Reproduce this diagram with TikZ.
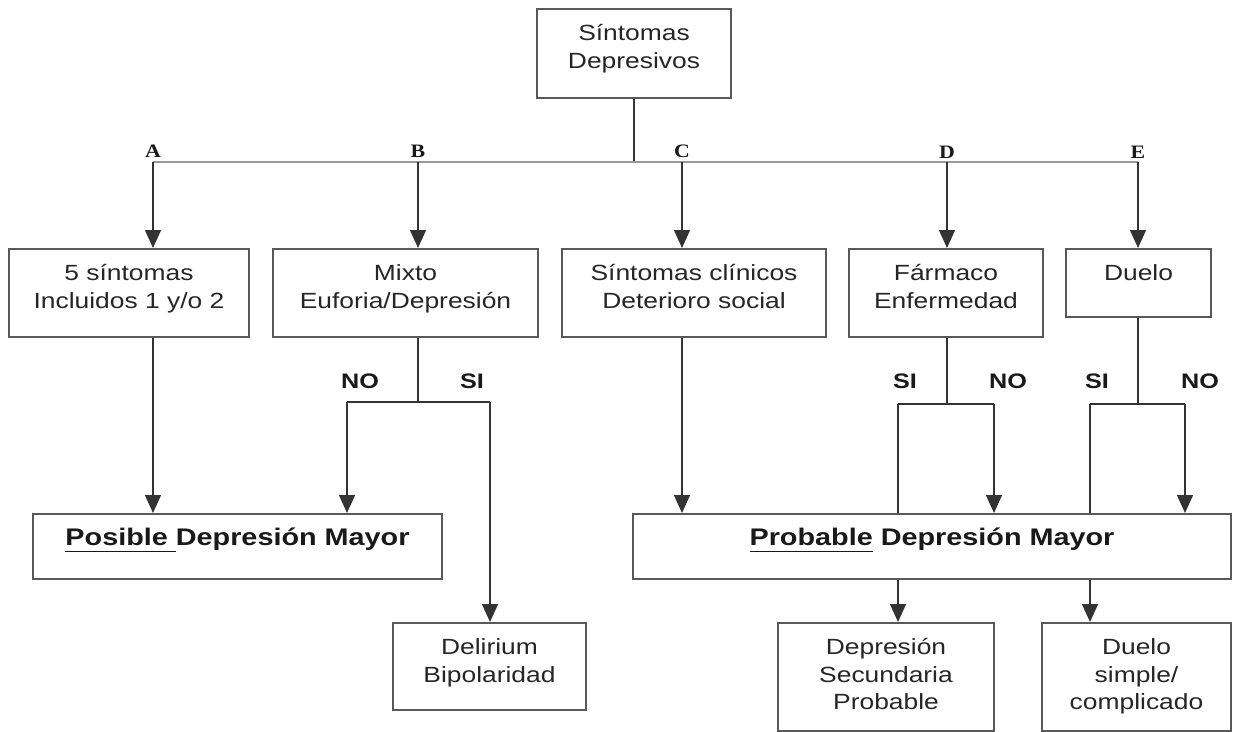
\documentclass[tikz,border=0pt]{standalone}
\usepackage{fontspec}
\setmainfont{Liberation Sans}[FakeStretch=1.2]
\newfontfamily\lblfont{Liberation Serif}[FakeStretch=1.15]
\usetikzlibrary{arrows.meta}
\newsavebox\ulb
\newcommand\myul[1]{\sbox\ulb{#1}\rlap{\rule[-6.5pt]{\wd\ulb}{1.8pt}}\usebox\ulb}
\newcommand\bt[3]{\parbox[c][#2][t]{#1}{\centering\vspace*{12.75pt}\strut #3}}
\begin{document}
\begin{tikzpicture}[x=1pt,y=-1pt,
  box/.style={draw=black!65, line width=1.8pt, inner sep=0pt, anchor=north, text=black!85, font=\fontsize{22}{27.5}\selectfont},
  bigbox/.style={box, text=black!90, font=\fontsize{24}{27.5}\selectfont\bfseries},
  conn/.style={draw=black!80, line width=1.4pt},
  arr/.style={conn, -{Triangle[length=18pt,width=16pt]}},
  barline/.style={draw=black!40, line width=2.6pt},
  yn/.style={anchor=base, text=black!90, font=\fontsize{21}{25}\selectfont\bfseries},
  letter/.style={anchor=base, text=black!90, font=\lblfont\fontsize{19}{21}\selectfont\bfseries}]
\fill[white] (0,0) rectangle (1233,731);
\useasboundingbox (0,0) rectangle (1233,731);

% boxes
\node[box] (top) at (634,8) {\bt{194pt}{89pt}{Síntomas\\Depresivos}};
\node[box] (A) at (129,248) {\bt{240pt}{88pt}{5 síntomas\\Incluidos 1 y/o 2}};
\node[box] (B) at (405.5,248) {\bt{265pt}{88pt}{Mixto\\Euforia/Depresión}};
\node[box] (C) at (694,248) {\bt{264pt}{88pt}{Síntomas clínicos\\Deterioro social}};
\node[box] (D) at (946,248) {\bt{194pt}{88pt}{Fármaco\\Enfermedad}};
\node[box] (E) at (1138.5,248) {\bt{145pt}{68pt}{Duelo}};
\node[bigbox] (pos) at (237.5,513) {\bt{409pt}{65pt}{\myul{Posible\ }Depresión Mayor}};
\node[bigbox] (prob) at (932,513) {\bt{598pt}{65pt}{\myul{Probable} Depresión Mayor}};
\node[box] (del) at (489.5,622) {\bt{193pt}{87pt}{Delirium\\Bipolaridad}};
\node[box] (dsec) at (886,622) {\bt{216pt}{108pt}{Depresión\\Secundaria\\Probable}};
\node[box] (dsim) at (1136.5,622) {\bt{189pt}{108pt}{Duelo\\simple/\\complicado}};

% branch points
\coordinate (pa) at (153,162);
\coordinate (pb) at (418,162);
\coordinate (pc) at (682,162);
\coordinate (pd) at (947,162);
\coordinate (pe) at (1138,162);
\coordinate (bl) at (347,402);
\coordinate (br) at (490,402);
\coordinate (dl) at (898,404);
\coordinate (dr) at (994,404);
\coordinate (el) at (1090,404);
\coordinate (er) at (1185,404);

% letters
\node[letter] (la) at (153,157) {A};
\node[letter] (lb) at (418,157) {B};
\node[letter] (lc) at (682,157) {C};
\node[letter] (ld) at (947,158) {D};
\node[letter] (le) at (1138,158) {E};

% yes/no labels
\node[yn] (bno) at (360,388) {NO};
\node[yn] (bsi) at (472,388) {SI};
\node[yn] (dsi) at (905,388) {SI};
\node[yn] (dno) at (1008,388) {NO};
\node[yn] (esi) at (1097,388) {SI};
\node[yn] (eno) at (1200,388) {NO};

% top connector and bar
\draw[conn] (top.south) -- (top.south |- pa);
\draw[barline] (pa) -- (pe);
\draw[arr] (pa) -- (pa |- A.north);
\draw[arr] (pb) -- (pb |- B.north);
\draw[arr] (pc) -- (pc |- C.north);
\draw[arr] (pd) -- (pd |- D.north);
\draw[arr] (pe) -- (pe |- E.north);

% A
\draw[arr] (pa |- A.south) -- (pa |- pos.north);
% B
\draw[conn] (pb |- B.south) -- (pb |- bl);
\draw[conn] (bl) -- (br);
\draw[arr] (bl) -- (bl |- pos.north);
\draw[arr] (br) -- (br |- del.north);
% C
\draw[arr] (pc |- C.south) -- (pc |- prob.north);
% D
\draw[conn] (pd |- D.south) -- (pd |- dl);
\draw[conn] (dl) -- (dr);
\draw[conn] (dl) -- (dl |- prob.north);
\draw[arr] (dr) -- (dr |- prob.north);
% E
\draw[conn] (pe |- E.south) -- (pe |- el);
\draw[conn] (el) -- (er);
\draw[conn] (el) -- (el |- prob.north);
\draw[arr] (er) -- (er |- prob.north);
% bottom
\draw[arr] (dl |- prob.south) -- (dl |- dsec.north);
\draw[arr] (el |- prob.south) -- (el |- dsim.north);
\end{tikzpicture}
\end{document}
